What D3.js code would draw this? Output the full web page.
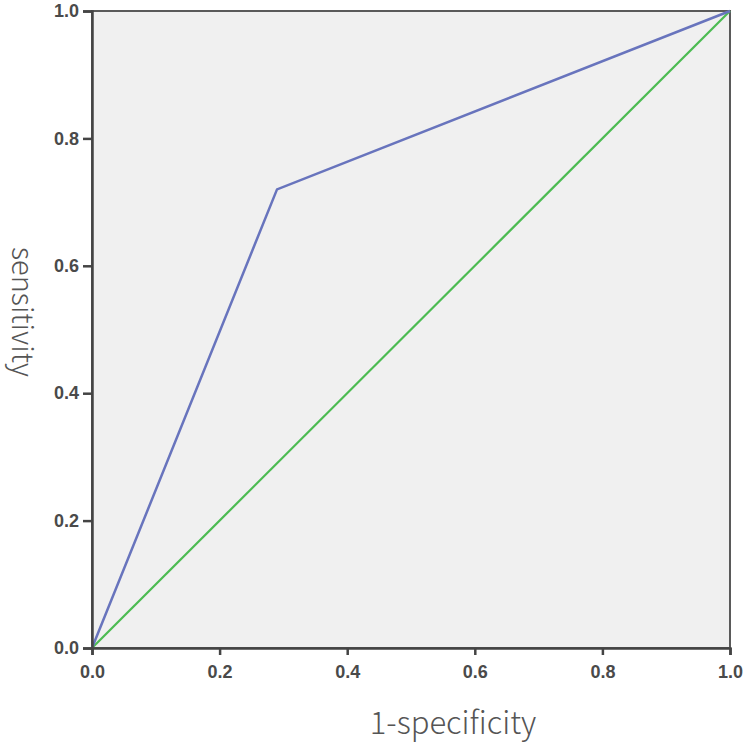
<!DOCTYPE html>
<html><head><meta charset="utf-8">
<script src="https://cdn.jsdelivr.net/npm/d3@7"></script>
<style>body{margin:0;background:#fff}</style>
</head><body>
<svg id="c" width="751" height="748"></svg>
<script>
const rocX = [0, 0.29, 1];
const rocY = [0, 0.72, 1];
const refX = [0, 1];
const refY = [0, 1];
const ticks = [0, 0.2, 0.4, 0.6, 0.8, 1.0];

const svg = d3.select("#c");
const m = {l: 92, r: 21, t: 11, b: 100};
const W = 751, H = 748;
const x = d3.scaleLinear().domain([0,1]).range([m.l, W - m.r]);
const y = d3.scaleLinear().domain([0,1]).range([H - m.b, m.t]);

svg.append("rect").attr("x", x(0)).attr("y", y(1))
  .attr("width", x(1)-x(0)).attr("height", y(0)-y(1))
  .attr("fill", "#f0f0f0").attr("stroke", "#5a5a5a").attr("stroke-width", 2);

const line = d3.line().x(d => x(d[0])).y(d => y(d[1]));
svg.append("path").datum(refX.map((v,i)=>[v, refY[i]]))
  .attr("d", line).attr("fill","none").attr("stroke","#4cbb52").attr("stroke-width",2.2);
svg.append("path").datum(rocX.map((v,i)=>[v, rocY[i]]))
  .attr("d", line).attr("fill","none").attr("stroke","#6874bd").attr("stroke-width",2.5);

const fmt = d3.format(".1f");
const gx = svg.append("g").attr("transform", `translate(0,${y(0)})`)
  .call(d3.axisBottom(x).tickValues(ticks).tickFormat(fmt).tickSize(7).tickPadding(10));
const gy = svg.append("g").attr("transform", `translate(${x(0)},0)`)
  .call(d3.axisLeft(y).tickValues(ticks).tickFormat(fmt).tickSize(9).tickPadding(4));
[gx, gy].forEach(g => {
  g.select(".domain").attr("stroke","#444").attr("stroke-width",2.5);
  g.selectAll(".tick line").attr("stroke","#444").attr("stroke-width",2.5);
  g.selectAll(".tick text").attr("fill","#4a4a4a").attr("font-family","Liberation Sans, Arial, sans-serif")
    .attr("font-size",18).attr("font-weight","bold");
});

const lf = "'Noto Sans CJK SC', 'Noto Sans', sans-serif";
svg.append("text").attr("x", 453).attr("y", 734)
  .attr("text-anchor","middle").attr("font-family",lf)
  .attr("font-size",31).attr("font-weight",300).attr("fill","#555").text("1-specificity");
svg.append("text").attr("transform", `translate(12,312) rotate(90)`)
  .attr("text-anchor","middle").attr("font-family",lf)
  .attr("font-size",29).attr("font-weight",300).attr("fill","#555").text("sensitivity");
</script>
</body></html>
